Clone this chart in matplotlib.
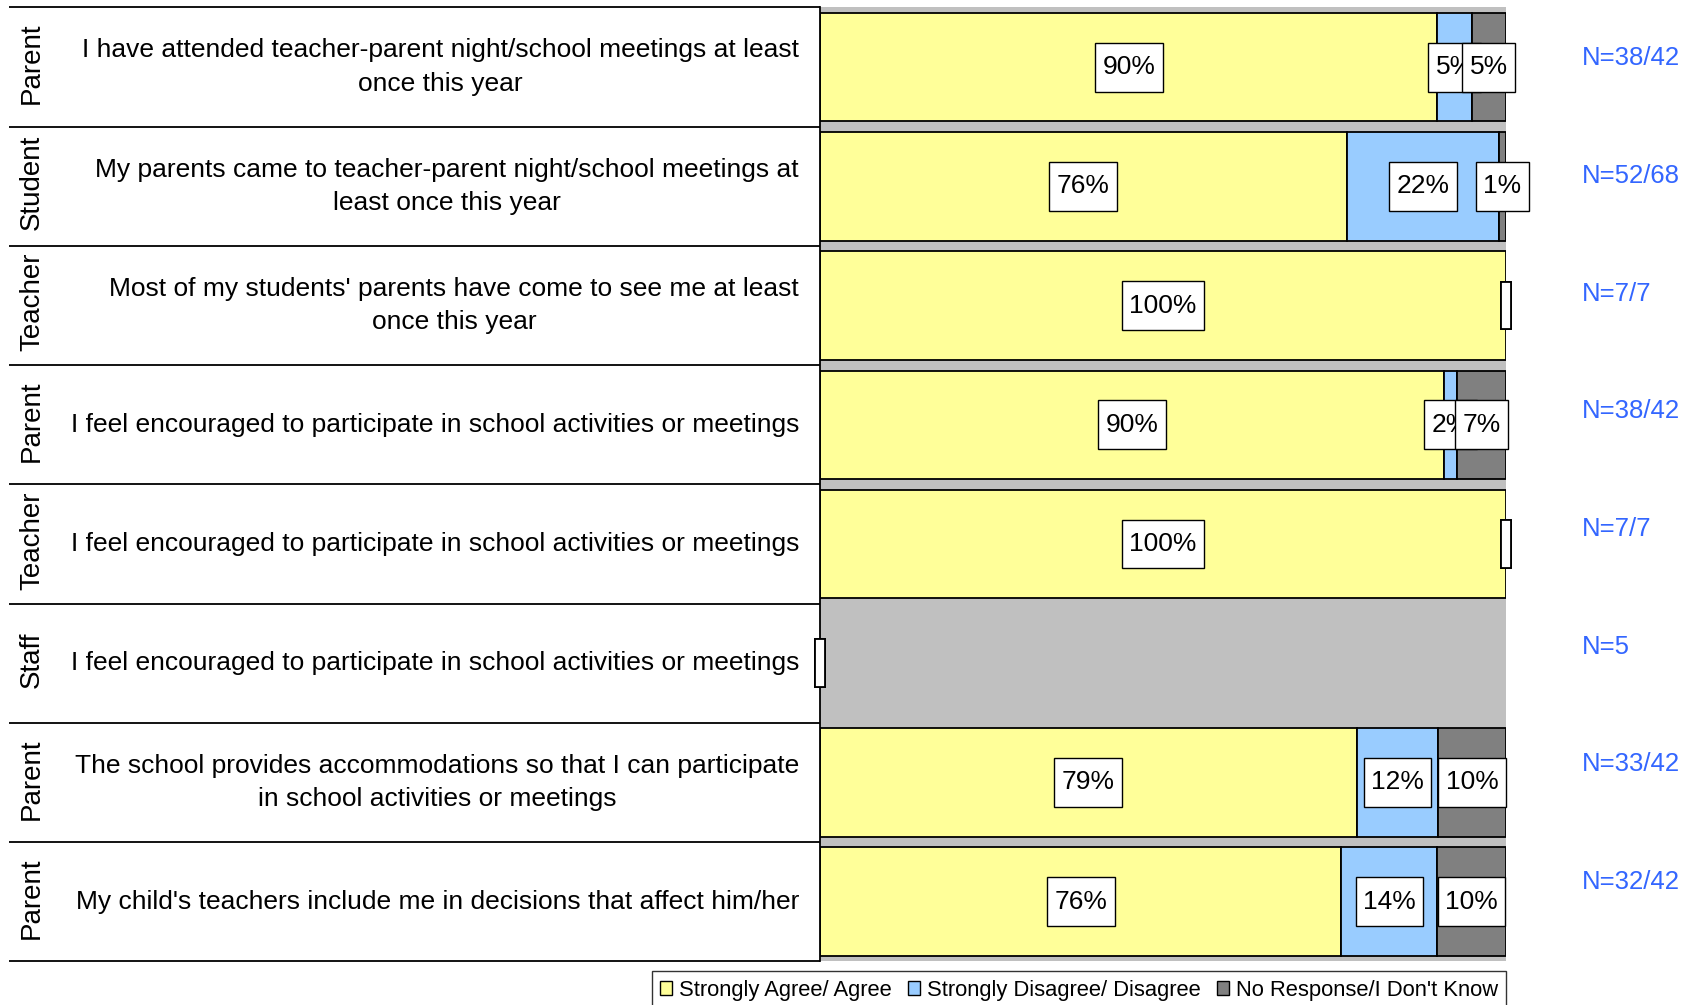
import matplotlib
matplotlib.use("Agg")
import matplotlib.pyplot as plt
from matplotlib.patches import Rectangle
from matplotlib.path import Path
import numpy as np

plt.rcParams['font.family'] = ['Liberation Sans', 'DejaVu Sans']

groups = ["Parent", "Student", "Teacher", "Parent", "Teacher", "Staff", "Parent", "Parent"]
questions = [
    "I have attended teacher-parent night/school meetings at least\nonce this year",
    "My parents came to teacher-parent night/school meetings at\nleast once this year",
    "Most of my students' parents have come to see me at least\nonce this year",
    "I feel encouraged to participate in school activities or meetings",
    "I feel encouraged to participate in school activities or meetings",
    "I feel encouraged to participate in school activities or meetings",
    "The school provides accommodations so that I can participate\nin school activities or meetings",
    "My child's teachers include me in decisions that affect him/her",
]
agree = [90, 76, 100, 90, 100, 0, 79, 76]
disagree = [5, 22, 0, 2, 0, 0, 12, 14]
no_response = [5, 1, 0, 7, 0, 0, 10, 10]
n_labels = ["N=38/42", "N=52/68", "N=7/7", "N=38/42", "N=7/7", "N=5", "N=33/42", "N=32/42"]
series_names = ["Strongly Agree/ Agree", "Strongly Disagree/ Disagree", "No Response/I Don't Know"]
colors = ["#FFFF99", "#99CCFF", "#808080"]


def tall_box(x0, y0, width, height, mutation_scale):
    px = 0.28 * mutation_scale
    py = 0.47 * mutation_scale
    xa, ya = x0 - px, y0 - py
    xb, yb = x0 + width + px, y0 + height + py
    return Path([(xa, ya), (xb, ya), (xb, yb), (xa, yb), (xa, ya)],
                [Path.MOVETO, Path.LINETO, Path.LINETO, Path.LINETO, Path.CLOSEPOLY])


W, H = 1688, 1005
fig = plt.figure(figsize=(W / 100, H / 100), dpi=100)

x0, x1 = 820, 1506
ytop, ybot = 7.5, 961.3
ax = fig.add_axes([x0 / W, 1 - ybot / H, (x1 - x0) / W, (ybot - ytop) / H])
axL = fig.add_axes([9 / W, 1 - ybot / H, (x0 - 9) / W, (ybot - ytop) / H])

n = len(groups)
y = np.arange(n)
data = np.array([agree, disagree, no_response], dtype=float)
totals = data.sum(axis=0)
safe = np.where(totals > 0, totals, 1)
norm = data / safe * 100

ax.set_facecolor("#C0C0C0")
ax.set_xlim(0, 100)
ax.set_ylim(n - 0.5, -0.5)
left = np.zeros(n)
bar_h = 0.91
for k in range(3):
    mask = norm[k] > 0
    ax.barh(y[mask], norm[k][mask], left=left[mask], height=bar_h, color=colors[k],
            edgecolor="black", linewidth=1.3, zorder=2, label=series_names[k])
    left = left + norm[k]

# labels
left = np.zeros(n)
box_w = 1.6
box_h = 0.40
for k in range(3):
    for i in range(n):
        v = data[k][i]
        c = left[i] + norm[k][i] / 2
        if v > 0:
            ax.text(c, y[i], f"{int(v)}%", ha="center", va="center", fontsize=19,
                    zorder=5 + k,
                    bbox=dict(boxstyle=tall_box, fc="white", ec="black", lw=1.0),
                    clip_on=False)
        else:
            ax.add_patch(Rectangle((c - box_w / 2, y[i] - box_h / 2), box_w, box_h,
                                   fc="white", ec="black", lw=1.3, zorder=5 + k,
                                   clip_on=False))
    left = left + norm[k]

for i in range(n):
    ax.text(111.0, -0.075 + y[i] * 0.987, n_labels[i], ha="left", va="center", fontsize=18.5,
            color="#3366FF", clip_on=False)

ax.set_xticks([])
ax.set_yticks([])
for s in ["top", "right", "bottom"]:
    ax.spines[s].set_visible(False)
ax.spines["left"].set_color("black")
ax.spines["left"].set_linewidth(1.3)
ax.spines["left"].set_zorder(3)

# left table
axL.set_xlim(0, 1)
axL.set_ylim(n - 0.5, -0.5)
axL.axis("off")
axL.hlines(np.arange(n + 1) - 0.5, 0, 1, color="black", lw=1.3, clip_on=False)
for i in range(n):
    axL.text(0.0285, y[i] - 0.03, groups[i], rotation=90, ha="center", va="center", fontsize=20)
    axL.text(0.974, y[i], questions[i], ha="right", va="center", multialignment="center",
             fontsize=19, linespacing=1.5)

leg = fig.legend(loc="lower right", bbox_to_anchor=(x1 / W, -0.004), ncol=3, fontsize=15.8,
                 frameon=True, fancybox=False, edgecolor="black", handlelength=0.55,
                 handleheight=0.55, handletextpad=0.3, columnspacing=0.75,
                 borderpad=0.38, borderaxespad=0)
leg.get_frame().set_linewidth(1.0)
for h in leg.legend_handles:
    h.set_linewidth(1.0)

fig.savefig("out.png", dpi=100)
